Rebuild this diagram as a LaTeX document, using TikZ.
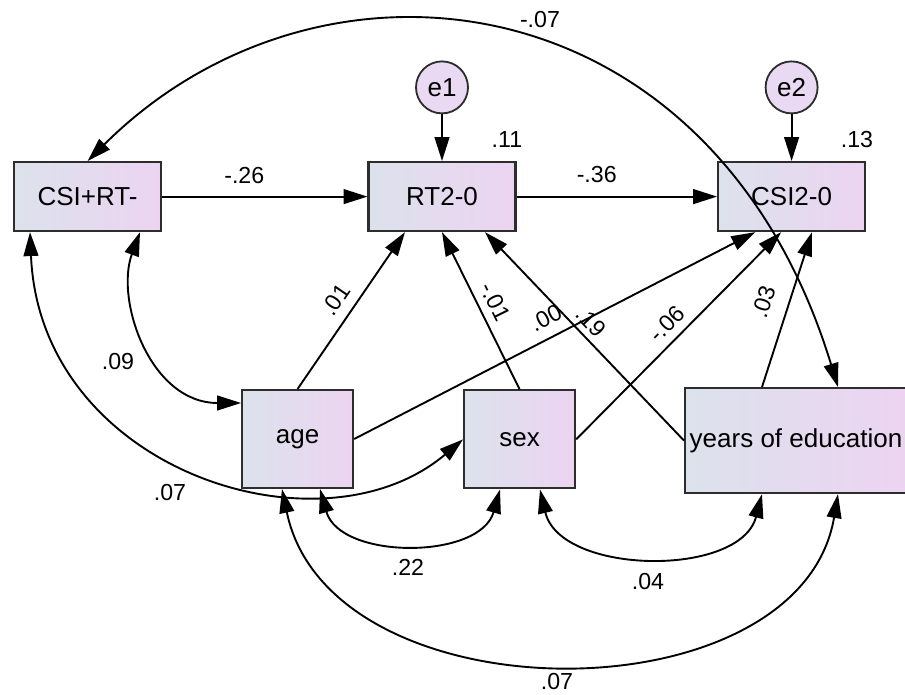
\documentclass[tikz,border=0pt]{standalone}
\usepackage{fontspec}
\setmainfont{Liberation Sans}
\usetikzlibrary{arrows.meta,positioning}

\definecolor{boxleft}{RGB}{220,226,236}
\definecolor{boxright}{RGB}{236,212,241}
\definecolor{errfill}{RGB}{233,217,242}
\definecolor{rim}{RGB}{45,45,45}

\begin{document}
\begin{tikzpicture}[
    >={Triangle[length=17pt,width=10.5pt]},
    var/.style={draw=rim, line width=1.5pt, left color=boxleft, right color=boxright,
        minimum width=3.675cm, minimum height=1.725cm, font=\fontsize{18.5}{22}\selectfont},
    err/.style={circle, draw=rim, line width=1.3pt, fill=errfill, minimum size=1.3cm,
        inner sep=0pt, font=\fontsize{18.5}{22}\selectfont},
    reg/.style={->, line width=1.35pt},
    cov/.style={<->, line width=1.35pt},
    coef/.style={font=\fontsize{16.5}{19}\selectfont, inner sep=1pt}
]
    \useasboundingbox (0,0) rectangle (22.625,17.375);

    % Observed variables
    \node[var] (csirt) at (2.19,12.46) {CSI+RT-};
    \node[var] (rt) at (11.05,12.46) {RT2-0};
    \node[var] (csi) at (19.79,12.46) {CSI2-0};
    \node[var, minimum width=2.775cm, minimum height=2.45cm] (age) at (7.44,6.4) {age};
    \node[var, minimum width=2.775cm, minimum height=2.45cm] (sex) at (12.99,6.39) {sex};
    \node[var, minimum width=5.5cm, minimum height=2.625cm] (years) at (19.9,6.36) {years of education};

    % Error terms
    \node[err] (e1) at (11.05,15.19) {e1};
    \node[err] (e2) at (19.79,15.19) {e2};
    \draw[reg] (e1) -- (rt);
    \draw[reg] (e2) -- (csi);

    % Squared multiple correlations
    \node[coef] (r2rt) at (12.675,13.875) {.11};
    \node[coef] (r2csi) at (21.425,13.875) {.13};

    % Regression paths
    \draw[reg] (csirt) -- node[coef, above=0.26cm, pos=0.4] {-.26} (rt);
    \draw[reg] (rt) -- node[coef, above=0.29cm, pos=0.4] {-.36} (csi);
    \draw[reg] (age.north) -- node[coef, sloped, above=0.21cm, pos=0.5] {.01} ([xshift=-0.925cm]rt.south);
    \draw[reg] (sex.north) -- node[coef, sloped, above=0.16cm, pos=0.51] {-.01} (rt.south);
    \draw[reg] (years.west) -- node[coef, sloped, above=0.11cm, pos=0.52] {.19} ([xshift=1.075cm]rt.south);
    \draw[reg] (age.east) -- node[coef, sloped, above=0.22cm, pos=0.5] {.00} ([xshift=-0.91cm]csi.south);
    \draw[reg] (sex.east) -- node[coef, sloped, above=0.16cm, pos=0.5] {-.06} ([xshift=-0.26cm]csi.south);
    \draw[reg] ([xshift=-0.85cm]years.north) -- node[coef, sloped, above=0.34cm, pos=0.5] {.03} ([xshift=0.51cm]csi.south);

    % Covariances
    \draw[cov] (csirt.north) .. controls (8.0,19.125) and (17.8,18.0) .. ([xshift=1.05cm]years.north);
    \node[coef] (c1) at (13.5,16.875) {-.07};
    \draw[cov] ([xshift=1.31cm]csirt.south) .. controls (2.875,9.875) and (3.75,7.3) .. ([yshift=0.9cm]age.west);
    \node[coef] (c2) at (2.95,8.325) {.09};
    \draw[cov] ([xshift=-1.44cm]csirt.south) .. controls (1.0,5.625) and (8.0,3.375) .. (sex.west);
    \node[coef] (c3) at (4.25,5.05) {.07};
    \draw[cov] ([xshift=0.56cm]age.south) .. controls (8.5,3.375) and (12.0,3.375) .. ([xshift=-0.49cm]sex.south);
    \node[coef] (c4) at (10.2,3.2) {.22};
    \draw[cov] ([xshift=0.51cm]sex.south) .. controls (14.0,3.0) and (18.5,2.925) .. ([xshift=-0.85cm]years.south);
    \node[coef] (c5) at (16.2,2.825) {.04};
    \draw[cov] ([xshift=-0.39cm]age.south) .. controls (8.25,-0.625) and (20.0,-0.625) .. ([xshift=1.05cm]years.south);
    \node[coef] (c6) at (13.925,0.33) {.07};
\end{tikzpicture}
\end{document}
